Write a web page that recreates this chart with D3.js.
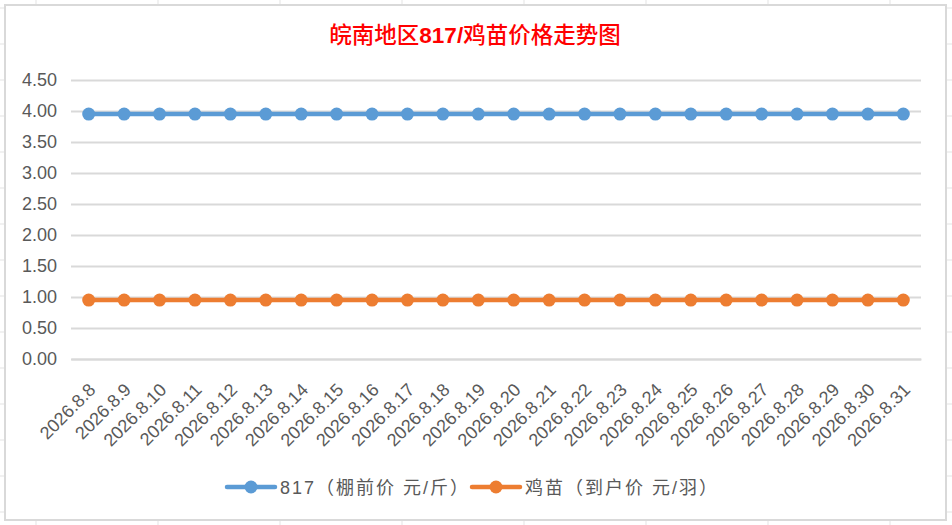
<!DOCTYPE html>
<html>
<head>
<meta charset="utf-8">
<script src="https://cdn.jsdelivr.net/npm/d3@7/dist/d3.min.js"></script>
<style>
  body { margin: 0; background: #fff; }
  svg { display: block; }
  .tick text { font-family: "Liberation Sans", "Noto Sans CJK SC", sans-serif; fill: #595959; }
</style>
</head>
<body>
<div id="chart"></div>
<script>
const dates = ["2026.8.8", "2026.8.9", "2026.8.10", "2026.8.11", "2026.8.12", "2026.8.13", "2026.8.14", "2026.8.15",
               "2026.8.16", "2026.8.17", "2026.8.18", "2026.8.19", "2026.8.20", "2026.8.21", "2026.8.22", "2026.8.23",
               "2026.8.24", "2026.8.25", "2026.8.26", "2026.8.27", "2026.8.28", "2026.8.29", "2026.8.30", "2026.8.31"];
const price817 = [3.95, 3.95, 3.95, 3.95, 3.95, 3.95, 3.95, 3.95, 3.95, 3.95, 3.95, 3.95,
                  3.95, 3.95, 3.95, 3.95, 3.95, 3.95, 3.95, 3.95, 3.95, 3.95, 3.95, 3.95];
const priceChick = [0.95, 0.95, 0.95, 0.95, 0.95, 0.95, 0.95, 0.95, 0.95, 0.95, 0.95, 0.95,
                    0.95, 0.95, 0.95, 0.95, 0.95, 0.95, 0.95, 0.95, 0.95, 0.95, 0.95, 0.95];
const yTicks = [0, 0.5, 1, 1.5, 2, 2.5, 3, 3.5, 4, 4.5];
const seriesNames = ["817（棚前价 元/斤）", "鸡苗（到户价 元/羽）"];
const colors = ["#5b9bd5", "#ed7d31"];

const W = 952, H = 525;
const margin = {top: 80, right: 31, bottom: 166, left: 71},
      width = W - margin.left - margin.right,
      height = H - margin.top - margin.bottom;

const svg = d3.select("#chart").append("svg")
    .attr("width", W)
    .attr("height", H);

// spreadsheet cells behind the chart
const bg = svg.append("g").attr("stroke", "#e3e3e3").attr("stroke-width", 1);
d3.range(36, W, 122).forEach(x => bg.append("line").attr("x1", x).attr("x2", x).attr("y1", 0).attr("y2", H));
d3.range(8, H, 36).forEach(y => bg.append("line").attr("x1", 0).attr("x2", W).attr("y1", y).attr("y2", y));

// chart area
svg.append("rect")
    .attr("x", 5).attr("y", 5)
    .attr("width", 941).attr("height", 515)
    .attr("fill", "#fff")
    .attr("stroke", "#d9d9d9")
    .attr("stroke-width", 2);

svg.append("text")
    .attr("x", 475)
    .attr("y", 43)
    .attr("text-anchor", "middle")
    .attr("fill", "#ff0000")
    .style("font-family", "'Noto Sans CJK SC', sans-serif")
    .style("font-size", "22.5px")
    .selectAll("tspan")
    .data([["皖南地区", 500], ["817/", 700], ["鸡苗价格走势图", 500]])
    .enter().append("tspan")
    .style("font-family", d => d[1] == 700 ? "'Liberation Sans', sans-serif" : null)
    .style("font-weight", d => d[1])
    .text(d => d[0]);

const g = svg.append("g")
    .attr("transform", "translate(" + margin.left + "," + margin.top + ")");

const x = d3.scaleBand()
    .domain(dates)
    .range([0, width]);

const y = d3.scaleLinear()
    .domain([0, 4.5])
    .range([height, 0]);

// y axis with gridlines
const yAxis = g.append("g")
    .call(d3.axisLeft(y).tickValues(yTicks).tickFormat(d3.format(".2f")).tickSize(-width).tickPadding(14));
yAxis.select(".domain").remove();
yAxis.selectAll(".tick line").attr("stroke", "#d9d9d9").attr("stroke-width", 2);
yAxis.selectAll(".tick text").style("font-size", "18px");

// x axis
const xAxis = g.append("g")
    .attr("transform", "translate(0," + height + ")")
    .call(d3.axisBottom(x).tickSize(0));
xAxis.select(".domain").attr("stroke", "#d9d9d9").attr("stroke-width", 2);
xAxis.selectAll(".tick text")
    .style("font-size", "18px")
    .style("text-anchor", "end")
    .attr("dy", 0)
    .attr("y", 0)
    .attr("transform", "translate(8,32) rotate(-45)");

const line = d3.line()
    .x((d, i) => x(dates[i]) + x.bandwidth() / 2)
    .y(d => y(d));

[price817, priceChick].forEach((vals, k) => {
    g.append("path")
        .datum(vals)
        .attr("fill", "none")
        .attr("stroke", colors[k])
        .attr("stroke-width", 4.5)
        .attr("stroke-linejoin", "round")
        .attr("d", line);

    g.selectAll(".dot" + k)
        .data(vals)
        .enter().append("circle")
        .attr("class", "dot" + k)
        .attr("cx", (d, i) => x(dates[i]) + x.bandwidth() / 2)
        .attr("cy", d => y(d))
        .attr("r", 6.5)
        .attr("fill", colors[k]);
});

// legend
const legend = svg.append("g").attr("transform", "translate(0,487)");
const legendX = [227, 472];
seriesNames.forEach((name, k) => {
    const lg = legend.append("g").attr("transform", "translate(" + legendX[k] + ",0)");
    lg.append("line")
        .attr("x1", 0).attr("x2", 48)
        .attr("stroke", colors[k])
        .attr("stroke-width", 4.5)
        .attr("stroke-linecap", "round");
    lg.append("circle")
        .attr("cx", 24)
        .attr("r", 6.5)
        .attr("fill", colors[k]);
    lg.append("text")
        .attr("x", 53)
        .attr("y", 6.5)
        .attr("fill", "#595959")
        .style("font-family", "'Liberation Sans', 'Noto Sans CJK SC', sans-serif")
        .style("font-size", "18px")
        .style("letter-spacing", "2px")
        .text(name);
});
</script>
</body>
</html>
